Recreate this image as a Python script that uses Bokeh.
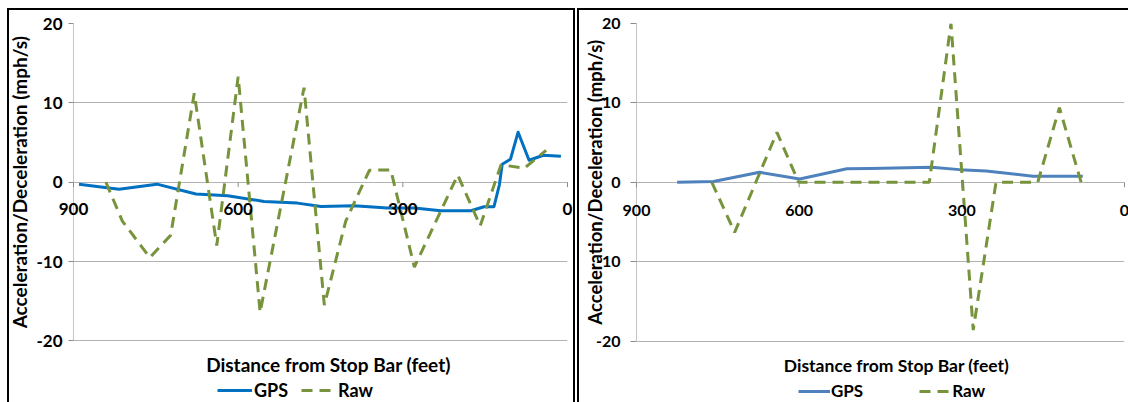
import math
from bokeh.plotting import figure
from bokeh.models import Range1d, FixedTicker, Legend, LegendItem
from bokeh.layouts import row
from bokeh.embed import file_html
from bokeh.resources import INLINE
from bokeh.core.properties import value

# ---------------- data ----------------
x_ticks = [900, 600, 300, 0]
x_tick_labels = ["900", "600", "300", "0"]
y_ticks = [-20, -10, 0, 10, 20]
y_tick_labels = ["-20", "-10", "0", "10", "20"]
y_title = "Acceleration/Deceleration (mph/s)"
x_title = "Distance from Stop Bar (feet)"
series_names = ["GPS", "Raw"]

left_gps_x = [890, 817, 748, 677, 619, 553, 492, 449, 389, 328, 279, 231, 176, 152, 134, 124, 119, 104, 90, 70, 44, 12]
left_gps_y = [-0.25, -0.88, -0.25, -1.5, -1.7, -2.43, -2.64, -3.06, -2.97, -3.27, -3.27, -3.6, -3.6, -3.1, -3.1, -0.3, 2.26, 2.88, 6.3, 2.76, 3.39, 3.26]
left_raw_x = [841, 811, 761, 723, 680, 639, 600, 560, 480, 443, 404, 361, 322, 279, 200, 159, 121, 79, 39]
left_raw_y = [0.0, -4.9, -9.5, -6.7, 11.2, -8.0, 13.3, -16.4, 11.9, -15.5, -4.9, 1.5, 1.55, -10.7, 0.9, -5.5, 2.2, 1.75, 4.0]

right_gps_x = [825, 758, 673, 599, 512, 469, 356, 304, 255, 169, 77]
right_gps_y = [0.0, 0.1, 1.27, 0.43, 1.7, 1.75, 1.9, 1.6, 1.44, 0.76, 0.76]
right_raw_x = [761, 719, 641, 601, 360, 320, 279, 237, 160, 120, 80]
right_raw_y = [0.0, -6.3, 6.3, 0.0, 0.0, 20.0, -18.6, 0.0, 0.0, 9.4, 0.0]

FONT = "Lato"
RAW_COLOR = "#77933C"
GRID = "#b3b3b3"
AXIS = "#8c8c8c"
FIG_H = 394          # host height (border-box), top border 2px
CONTENT_H = FIG_H - 2


def make_chart(gps_x, gps_y, raw_x, raw_y, gps_color, cfg):
    # the frame runs down to the bottom of the canvas so that the legend and
    # the x title (which sit below the -20 line) are not clipped
    ph = cfg["ph"]
    frame_h = CONTENT_H - cfg["mbt"]
    span = y_ticks[-1] - y_ticks[0]
    y_min = y_ticks[0] - (frame_h - ph) * span / ph

    p = figure(width=cfg["width"], height=FIG_H,
               x_range=Range1d(x_ticks[0], x_ticks[-1]),
               y_range=Range1d(y_min, y_ticks[-1]),
               output_backend="svg", toolbar_location=None,
               x_axis_location=None,
               min_border_left=cfg["mbl"], min_border_right=cfg["mbr"],
               min_border_top=cfg["mbt"], min_border_bottom=0)
    p.outline_line_color = None
    p.background_fill_color = "white"
    p.border_fill_color = "white"
    p.xgrid.grid_line_color = None
    p.ygrid.ticker = FixedTicker(ticks=y_ticks)
    p.ygrid.grid_line_color = GRID
    p.ygrid.grid_line_width = 1

    ax = p.yaxis[0]
    ax.ticker = FixedTicker(ticks=y_ticks)
    ax.major_label_overrides = dict(zip(y_ticks, y_tick_labels))
    ax.axis_line_color = None
    ax.major_tick_line_color = AXIS
    ax.major_tick_out = cfg["tick"]
    ax.major_tick_in = 0
    ax.minor_tick_line_color = None
    ax.major_label_standoff = cfg["lstand"]
    ax.major_label_text_font = FONT
    ax.major_label_text_font_style = "bold"
    ax.major_label_text_font_size = cfg["fs"]
    ax.major_label_text_color = "black"

    # y axis line from -20 to 20
    p.segment(x0=[x_ticks[0]], y0=[y_ticks[0]], x1=[x_ticks[0]], y1=[y_ticks[-1]],
              line_color=AXIS, line_width=1)

    r_gps = p.line(gps_x, gps_y, line_color=gps_color, line_width=3, line_join="round")
    r_raw = p.line(raw_x, raw_y, line_color=RAW_COLOR, line_width=3, line_dash="11 7")

    # x axis drawn where it crosses y = 0
    tick_len = 5 * span / ph
    p.segment(x0=x_ticks, y0=[0] * len(x_ticks), x1=x_ticks, y1=[-tick_len] * len(x_ticks),
              line_color=AXIS, line_width=1, level="overlay")
    p.text(x=x_ticks, y=[0] * len(x_ticks), text=x_tick_labels,
           text_align="center", text_baseline="middle", y_offset=cfg["xl_off"],
           text_font=value(FONT), text_font_style="bold", text_font_size=cfg["fs"],
           text_color="black", level="overlay")

    # axis titles
    p.text(x=[(x_ticks[0] + x_ticks[-1]) / 2], y=[y_ticks[0]], text=[x_title],
           text_align="center", text_baseline="middle",
           x_offset=cfg["xt_dx"], y_offset=cfg["xt_dy"],
           text_font=value(FONT), text_font_style="bold", text_font_size=cfg["xtfs"],
           text_color="black", level="overlay")
    p.text(x=[x_ticks[0]], y=[(y_ticks[0] + y_ticks[-1]) / 2], text=[y_title],
           angle=math.pi / 2, text_align="center", text_baseline="middle",
           x_offset=cfg["yt_dx"],
           text_font=value(FONT), text_font_style="bold", text_font_size=cfg["ytfs"],
           text_color="black", level="overlay")

    leg = Legend(items=[LegendItem(label=series_names[0], renderers=[r_gps]),
                        LegendItem(label=series_names[1], renderers=[r_raw])],
                 location=cfg["leg_loc"], orientation="horizontal",
                 glyph_width=cfg["gw"], glyph_height=18, label_height=18,
                 label_standoff=cfg["lso"], spacing=cfg["sp"], padding=0, margin=0,
                 label_text_font=FONT, label_text_font_style="bold",
                 label_text_font_size=cfg["lfs"], label_text_color="black",
                 border_line_color=None, background_fill_alpha=0)
    p.add_layout(leg, "center")
    p.styles = cfg["styles"]
    return p


left_cfg = dict(width=568, mbl=64, mbr=10, mbt=9, ph=319, tick=5, lstand=6,
                fs="17px", xtfs="19px", ytfs="19px", lfs="18px",
                xl_off=27, xt_dx=8, xt_dy=24, yt_dx=-54,
                leg_loc=(144, 3), gw=35, lso=2, sp=13,
                styles={"border-top": "2px solid black", "border-left": "2px solid black",
                        "border-right": "2px solid black", "box-sizing": "border-box",
                        "margin-left": "7px", "margin-top": "8px"})
right_cfg = dict(width=551, mbl=57, mbr=6, mbt=13, ph=316, tick=6, lstand=10,
                 fs="16px", xtfs="17.5px", ytfs="18.5px", lfs="17px",
                 xl_off=28, xt_dx=16, xt_dy=24, yt_dx=-42,
                 leg_loc=(162, 3), gw=32, lso=1, sp=56,
                 styles={"border-top": "2px solid black", "border-left": "2px solid black",
                         "box-sizing": "border-box", "margin-top": "8px"})

p1 = make_chart(left_gps_x, left_gps_y, left_raw_x, left_raw_y, "#0070C0", left_cfg)
p2 = make_chart(right_gps_x, right_gps_y, right_raw_x, right_raw_y, "#4F81BD", right_cfg)

layout = row(p1, p2, spacing=2)
open("out.html", "w").write(file_html(layout, INLINE))
